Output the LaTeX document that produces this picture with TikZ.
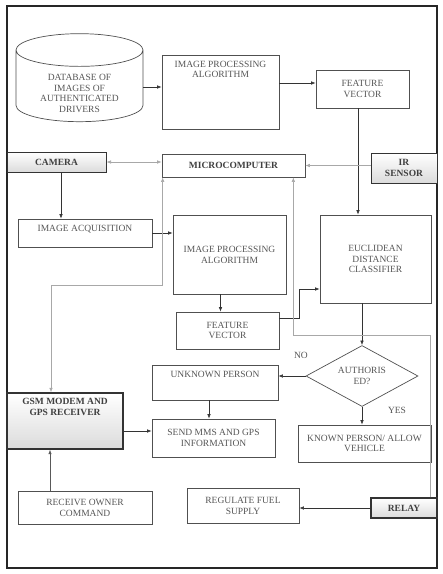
\documentclass[tikz,border=0pt]{standalone}
\usepackage{fontspec}
\setmainfont{Liberation Serif}
\usetikzlibrary{arrows.meta,shapes.geometric,positioning}
\definecolor{txt}{HTML}{555555}
\definecolor{edge}{HTML}{505050}
\definecolor{linkgray}{HTML}{A8A8A8}

\begin{document}
\begin{tikzpicture}[x=1pt,y=-1pt,>={Latex[length=4.5pt,width=3.5pt]},
every node/.style={font=\fontsize{9.5}{10.8}\selectfont, text=txt, align=center},
bold/.style={font=\fontsize{9.5}{10.8}\selectfont\bfseries, text=black!75},
box/.style={draw=edge, line width=0.7pt, inner sep=2pt},
unit/.style={draw=black!80, line width=1pt, top color=white, bottom color=gray!28, bold},
toptext/.style={anchor=north, yshift=-4pt, inner sep=2pt},
flow/.style={->, draw=black!80, line width=0.6pt},
ctrl/.style={draw=linkgray, line width=0.6pt}]
\useasboundingbox (0,0) rectangle (443,574);
\draw [line width=1.3pt, black!85] (7,6) rectangle (437,568);
% upper row: training images
\node (db) [cylinder, shape border rotate=90, draw=edge, line width=0.7pt, aspect=0.38,
  text width=80pt, inner sep=3pt, minimum width=127, minimum height=88,
  label={[yshift=-5pt]center:{DATABASE OF\\IMAGES OF\\AUTHENTICATED\\DRIVERS}}] at (79.5,88.5) {};
\node (ipa_1) [box, minimum width=117, minimum height=74,
  label={[toptext]north:{IMAGE PROCESSING\\ALGORITHM}}] at (220.5,92) {};
\node (fv_1) [box, minimum width=93, minimum height=38] at (362.5,89) {FEATURE\\VECTOR};
\node (cam) [unit, minimum width=99, minimum height=20] at (56.5,162) {CAMERA};
\node (mc) [box, bold, minimum width=143, minimum height=23] at (233.5,165.5) {MICROCOMPUTER};
\node (ir) [unit, minimum width=66, minimum height=30] at (404,168) {IR\\SENSOR};
% live images
\node (acq) [box, minimum width=134, minimum height=28,
  label={[toptext]north:IMAGE ACQUISITION}] at (85,233) {};
\node (ipa_2) [box, minimum width=113, minimum height=79] at (229.5,254.5) {IMAGE PROCESSING\\ALGORITHM};
\node (fv_2) [box, minimum width=103, minimum height=37] at (227.5,330.5) {FEATURE\\VECTOR};
\node (edc) [box, minimum width=111, minimum height=88] at (375.5,259) {EUCLIDEAN\\DISTANCE\\CLASSIFIER};
\node (auth) [box, diamond, aspect=1.84, inner sep=0pt, minimum width=112, minimum height=61] at (362,376) {AUTHORIS\\ED?};
\node (unknown) [box, minimum width=126, minimum height=35,
  label={[toptext]north:UNKNOWN PERSON}] at (215,382.5) {};
\node (mms) [box, minimum width=123, minimum height=38] at (213.5,438) {SEND MMS AND GPS\\INFORMATION};
\node (gsm) [unit, line width=1.4pt, minimum width=116, minimum height=56,
  label={[toptext, bold]north:{GSM MODEM AND\\GPS RECEIVER}}] at (65,421) {};
\node (known) [box, minimum width=133, minimum height=37] at (364.5,443.5) {KNOWN PERSON/ ALLOW\\VEHICLE};
\node (owner) [box, minimum width=134, minimum height=33] at (85,507.5) {RECEIVE OWNER\\COMMAND};
\node (fuel) [box, minimum width=112, minimum height=35] at (243,505.5) {REGULATE FUEL\\SUPPLY};
\node (relay) [unit, line width=1.3pt, minimum width=66, minimum height=20] at (404,508) {RELAY};
\node (no) at (301,355) {NO};
\node (yes) at (397,410) {YES};
\coordinate (g_1) at (51,285);
\coordinate (r_1) at (430,335);
\coordinate (e_1) at (299,289);
\begin{scope}
\draw [flow] (db.east |- 0,87) -- (ipa_1.west |- 0,87);
\draw [flow] ([yshift=6pt]fv_1.west -| ipa_1.east) -- ([yshift=6pt]fv_1.west);
\draw [flow] ([xshift=4.5pt]cam.south) -- ([xshift=4.5pt]cam.south |- acq.north);
\draw [flow] (acq.east) -- (acq.east -| ipa_2.west);
\draw [flow] ([xshift=-9pt]ipa_2.south) -- ([xshift=-9pt]ipa_2.south |- fv_2.north);
\draw [flow] ([yshift=12.5pt]fv_2.east) -| (e_1) -- (e_1 -| edc.west);
\draw [flow] ([xshift=-4.5pt]fv_1.south) -- ([xshift=-4.5pt]fv_1.south |- edc.north);
\draw [flow] (auth.north |- edc.south) -- (auth.north);
\draw [flow] (auth.west) -- (auth.west -| unknown.east);
\draw [flow] (auth.south) -- (auth.south |- known.north);
\draw [flow] ([xshift=-6pt]unknown.south) -- ([xshift=-6pt]unknown.south |- mms.north);
\draw [flow] ([yshift=-10pt]gsm.east) -- ([yshift=-10pt]gsm.east -| mms.west);
\draw [flow, draw=black!65] ([xshift=-35pt]owner.north) -- ([xshift=-35pt]owner.north |- gsm.south);
\draw [flow] (relay.west) -- (relay.west -| fuel.east);
% control lines of the microcomputer
\draw [ctrl, <->] (cam.east) -- (cam.east -| mc.west);
\draw [ctrl, ->] (ir.west |- mc.east) -- (mc.east);
\draw [ctrl, <->] ([xshift=1pt]mc.south west) |- (g_1) -- (g_1 |- gsm.north);
\draw [ctrl, ->] (r_1 |- relay.north) -- (r_1) -| ([xshift=-12pt]mc.south east);
\end{scope}
\end{tikzpicture}
\end{document}
